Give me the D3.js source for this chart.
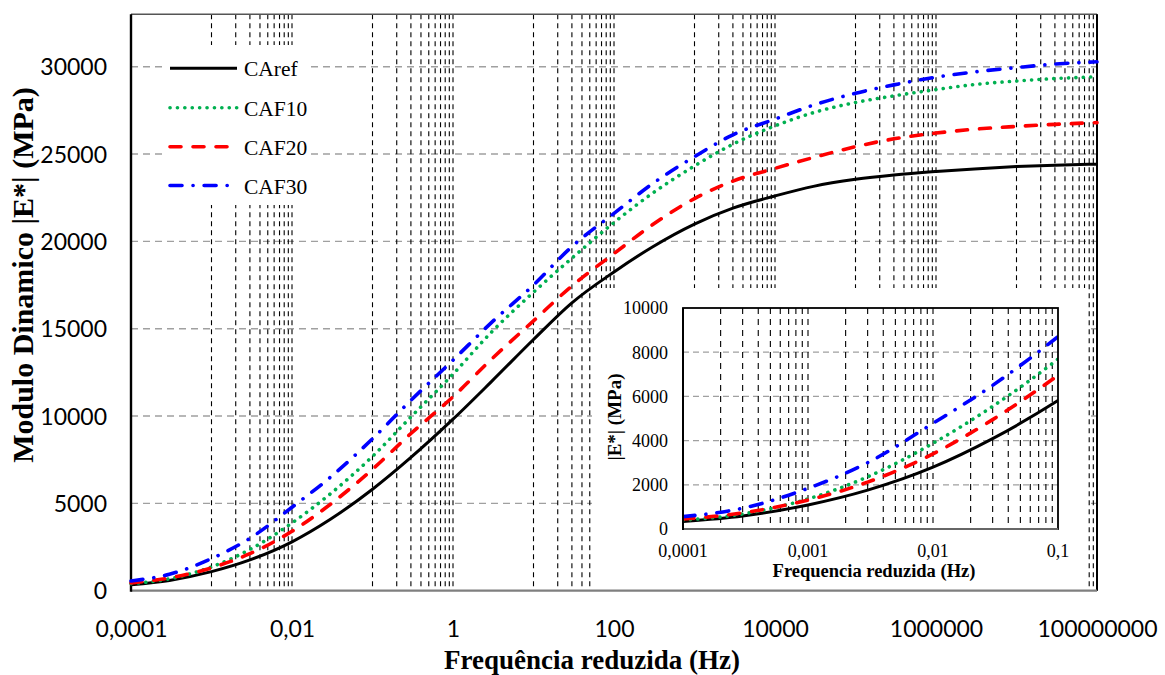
<!DOCTYPE html>
<html>
<head>
<meta charset="utf-8">
<script src="https://cdn.jsdelivr.net/npm/d3@7"></script>
<style>
  html, body { margin: 0; padding: 0; background: #fff; }
  svg { display: block; }
</style>
</head>
<body>
<svg id="chart" width="1165" height="675"></svg>
<script>
// Reduced frequency (Hz) at which |E*| was evaluated
const freq = [1e-4, 3e-4, 1e-3, 3e-3, 1e-2, 3e-2, 0.1, 0.3, 1, 3, 10, 30, 100, 300,
              1e3, 3e3, 1e4, 3e4, 1e5, 3e5, 1e6, 3e6, 1e7, 3e7, 1e8];

// Dynamic modulus |E*| (MPa) per mixture
const caRef = [340, 590, 1090, 1760, 2800, 4090, 5810, 7630, 9820, 11970, 14380, 16480, 18250, 19680,
               20990, 21900, 22600, 23150, 23550, 23800, 24000, 24150, 24280, 24360, 24420];
const caf10 = [400, 680, 1360, 2360, 3880, 5550, 7690, 9950, 12400, 14800, 17090, 19040, 21080, 22750,
               24320, 25560, 26610, 27370, 27950, 28330, 28690, 28980, 29180, 29320, 29420];
const caf20 = [450, 730, 1310, 2120, 3400, 4950, 6950, 9000, 11100, 13250, 15450, 17450, 19300, 20950,
               22450, 23450, 24180, 24800, 25420, 25870, 26200, 26420, 26580, 26700, 26800];
const caf30 = [560, 940, 1840, 3000, 4780, 6500, 8700, 10900, 13200, 15350, 17500, 19700, 21600, 23300,
               24850, 26100, 27000, 27800, 28480, 28960, 29400, 29700, 29950, 30150, 30280];

const seriesNames = ["CAref", "CAF10", "CAF20", "CAF30"];

// Axis ticks
const xTickValues = [1e-4, 1e-2, 1, 100, 1e4, 1e6, 1e8];
const xTickLabels = ["0,0001", "0,01", "1", "100", "10000", "1000000", "100000000"];
const yTickValues = [0, 5000, 10000, 15000, 20000, 25000, 30000];
const insetXTickValues = [1e-4, 1e-3, 1e-2, 1e-1];
const insetXTickLabels = ["0,0001", "0,001", "0,01", "0,1"];
const insetYTickValues = [0, 2000, 4000, 6000, 8000, 10000];

// Line styles per series
const styles = [
  { color: "#000000", width: 3, dash: null, cap: "butt" },
  { color: "#00b050", width: 3.6, dash: "0.1 7.3", cap: "round" },
  { color: "#ff0000", width: 3.6, dash: "11 12", cap: "round" },
  { color: "#0000ff", width: 3.6, dash: "12 11 0.1 11", cap: "round" }
];

const series = [caRef, caf10, caf20, caf30].map((vals, i) => ({
  name: seriesNames[i],
  style: styles[i],
  points: freq.map((f, j) => ({ f, v: vals[j] }))
}));

const svg = d3.select("#chart");
const serif = "'Liberation Serif', 'Times New Roman', serif";
const sans = "Lato, 'Open Sans', sans-serif";

// ---------- main plot ----------
const M = { left: 131, right: 1097, top: 14.3, bottom: 590.7 };
const x = d3.scaleLog().domain([1e-4, 1e8]).range([M.left, M.right]);
const y = d3.scaleLinear().domain([0, 33000]).range([M.bottom, M.top]);

const grid = svg.append("g");

// horizontal grid (grey dashed)
grid.selectAll("line.hg").data(yTickValues.filter(v => v > 0)).join("line")
  .attr("x1", M.left).attr("x2", M.right)
  .attr("y1", d => y(d)).attr("y2", d => y(d))
  .attr("stroke", "#a0a0a0").attr("stroke-width", 1.4).attr("stroke-dasharray", "7 5");

// vertical grid (black dashed), one full decade of lines every other decade
const gridDecades = [1e-3, 1e-1, 1e1, 1e3, 1e5, 1e7];
const vLines = [];
gridDecades.forEach(d => { for (let k = 1; k <= 10; k++) vLines.push(d * k); });
grid.selectAll("line.vg").data(vLines).join("line")
  .attr("x1", d => x(d)).attr("x2", d => x(d))
  .attr("y1", M.top).attr("y2", M.bottom)
  .attr("stroke", "#000").attr("stroke-width", 1.1).attr("stroke-dasharray", "5 4");

// legend background and inset background cover the grid
svg.append("rect").attr("x", 167).attr("y", 45).attr("width", 143).attr("height", 160).attr("fill", "#fff");
svg.append("rect").attr("x", 592).attr("y", 288).attr("width", 494).attr("height", 300).attr("fill", "#fff");

// frame
svg.append("line").attr("x1", M.left).attr("x2", M.right).attr("y1", M.top).attr("y2", M.top)
  .attr("stroke", "#555").attr("stroke-width", 1.6);
svg.append("line").attr("x1", M.right).attr("x2", M.right).attr("y1", M.top).attr("y2", M.bottom)
  .attr("stroke", "#000").attr("stroke-width", 2);
svg.append("line").attr("x1", M.left).attr("x2", M.right).attr("y1", M.bottom).attr("y2", M.bottom)
  .attr("stroke", "#7f7f7f").attr("stroke-width", 2.2);
svg.append("line").attr("x1", M.left).attr("x2", M.left).attr("y1", M.top).attr("y2", M.bottom + 1)
  .attr("stroke", "#000").attr("stroke-width", 2.4);

// curves
function drawCurves(g, xs, ys) {
  const line = d3.line().x(d => xs(d.f)).y(d => ys(d.v)).curve(d3.curveMonotoneX);
  g.selectAll("path.s").data(series).join("path")
    .attr("fill", "none")
    .attr("stroke", d => d.style.color)
    .attr("stroke-width", d => d.style.width)
    .attr("stroke-dasharray", d => d.style.dash)
    .attr("stroke-linecap", d => d.style.cap)
    .attr("d", d => line(d.points));
}
drawCurves(svg.append("g"), x, y);

// axes
const xAxis = svg.append("g").attr("transform", `translate(0,${M.bottom})`)
  .call(d3.axisBottom(x).tickValues(xTickValues).tickFormat((d, i) => xTickLabels[i]).tickSize(0).tickPadding(0));
xAxis.select(".domain").remove();
xAxis.selectAll("text").attr("y", 46).attr("dy", null)
  .style("font-family", sans).style("font-size", "23px").attr("fill", "#000");

const yAxis = svg.append("g").attr("transform", `translate(${M.left},0)`)
  .call(d3.axisLeft(y).tickValues(yTickValues).tickFormat(d3.format("d")).tickSize(0).tickPadding(0));
yAxis.select(".domain").remove();
yAxis.selectAll("text").attr("x", -24).attr("dy", "0.36em")
  .style("font-family", sans).style("font-size", "23px").attr("fill", "#000");

// axis titles
svg.append("text").attr("x", 592).attr("y", 669).attr("text-anchor", "middle")
  .style("font-family", serif).style("font-weight", "bold")
  .style("font-size", "27px").text("Frequência reduzida (Hz)");
svg.append("text").attr("transform", "translate(33,275) rotate(-90)").attr("text-anchor", "middle")
  .style("font-family", serif).style("font-weight", "bold")
  .style("font-size", "30px").text("Modulo Dinamico |E*| (MPa)");

// legend
const legend = svg.append("g");
const legendRows = [68.3, 107.7, 146.7, 185.5];
series.forEach((s, i) => {
  legend.append("line").attr("x1", 170).attr("x2", 237)
    .attr("y1", legendRows[i]).attr("y2", legendRows[i])
    .attr("stroke", s.style.color).attr("stroke-width", s.style.width)
    .attr("stroke-dasharray", s.style.dash).attr("stroke-linecap", s.style.cap);
  legend.append("text").attr("x", 244).attr("y", legendRows[i] + 8)
    .style("font-family", serif).style("font-size", "21.5px")
    .text(s.name);
});

// ---------- inset: low-frequency detail ----------
const I = { left: 683, right: 1058, top: 308, bottom: 529 };
const xi = d3.scaleLog().domain([1e-4, 1e-1]).range([I.left, I.right]);
const yi = d3.scaleLinear().domain([0, 10000]).range([I.bottom, I.top]);

const inset = svg.append("g");
inset.selectAll("line.hg").data(insetYTickValues.filter(v => v > 0 && v < 10000)).join("line")
  .attr("x1", I.left).attr("x2", I.right)
  .attr("y1", d => yi(d)).attr("y2", d => yi(d))
  .attr("stroke", "#a0a0a0").attr("stroke-width", 1.3).attr("stroke-dasharray", "6 4");

const ivLines = [];
[1e-4, 1e-3, 1e-2].forEach(d => { for (let k = 2; k <= 10; k++) ivLines.push(d * k); });
inset.selectAll("line.vg").data(ivLines.filter(v => v < 0.1 * 0.999)).join("line")
  .attr("x1", d => xi(d)).attr("x2", d => xi(d))
  .attr("y1", I.top).attr("y2", I.bottom)
  .attr("stroke", "#000").attr("stroke-width", 1.1).attr("stroke-dasharray", "6 5");

svg.append("clipPath").attr("id", "insetClip").append("rect")
  .attr("x", I.left).attr("y", I.top).attr("width", I.right - I.left).attr("height", I.bottom - I.top);
drawCurves(inset.append("g").attr("clip-path", "url(#insetClip)"), xi, yi);

inset.append("rect").attr("x", I.left).attr("y", I.top)
  .attr("width", I.right - I.left).attr("height", I.bottom - I.top)
  .attr("fill", "none").attr("stroke", "#000").attr("stroke-width", 1.8);
inset.append("line").attr("x1", I.left).attr("x2", I.right).attr("y1", I.bottom).attr("y2", I.bottom)
  .attr("stroke", "#666").attr("stroke-width", 2);
inset.append("line").attr("x1", I.left).attr("x2", I.left).attr("y1", I.top).attr("y2", I.bottom + 1)
  .attr("stroke", "#000").attr("stroke-width", 2);

inset.selectAll("text.xt").data(insetXTickValues).join("text")
  .attr("x", d => xi(d)).attr("y", 557).attr("text-anchor", "middle")
  .style("font-family", serif).style("font-size", "18px")
  .text((d, i) => insetXTickLabels[i]);
inset.selectAll("text.yt").data(insetYTickValues).join("text")
  .attr("x", 668).attr("y", d => yi(d)).attr("dy", "0.36em").attr("text-anchor", "end")
  .style("font-family", serif).style("font-size", "18px")
  .text(d => d3.format("d")(d));
inset.append("text").attr("x", 874).attr("y", 577).attr("text-anchor", "middle")
  .style("font-family", serif).style("font-weight", "bold").style("font-size", "18.5px")
  .text("Frequencia reduzida (Hz)");
inset.append("text").attr("transform", "translate(621,417) rotate(-90)").attr("text-anchor", "middle")
  .style("font-family", serif).style("font-weight", "bold").style("font-size", "19px")
  .text("|E*| (MPa)");
</script>
</body>
</html>
